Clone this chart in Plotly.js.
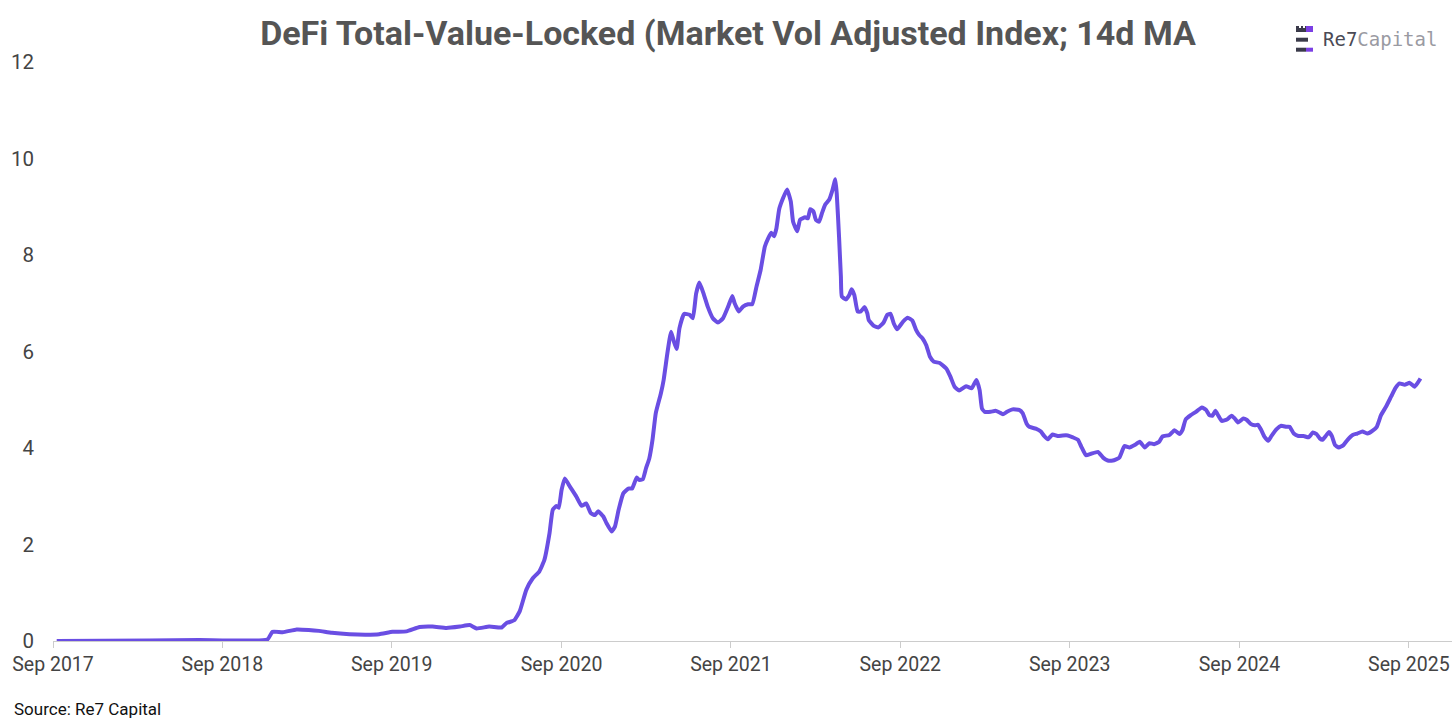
<!DOCTYPE html>
<html>
<head>
<meta charset="utf-8">
<script src="https://cdn.plot.ly/plotly-3.0.1.min.js"></script>
<style>html,body{margin:0;padding:0;background:#fff;}#chart{width:1456px;height:727px;}</style>
</head>
<body>
<div id="chart"></div>
<script>
const dates = [
"2017-09-09","2018-03-27","2018-07-13","2018-12-07","2018-12-18","2019-01-09","2019-02-08","2019-03-06","2019-03-28","2019-04-25",
"2019-06-02","2019-07-08","2019-08-05","2019-09-03","2019-10-03","2019-10-31","2019-11-28","2019-12-28","2020-01-26","2020-02-16",
"2020-03-02","2020-03-29","2020-04-25","2020-05-05","2020-05-22","2020-06-03","2020-06-17","2020-07-01","2020-07-15","2020-07-26",
"2020-08-06","2020-08-13","2020-08-21","2020-08-26","2020-09-01","2020-09-08","2020-09-19","2020-10-03","2020-10-14","2020-10-24",
"2020-11-03","2020-11-12","2020-11-19","2020-11-30","2020-12-07","2020-12-18","2020-12-25","2021-01-02","2021-01-12","2021-01-23",
"2021-01-31","2021-02-10","2021-02-15","2021-02-23","2021-03-02","2021-03-09","2021-03-16","2021-03-23","2021-04-03","2021-04-09",
"2021-04-17","2021-04-25","2021-05-01","2021-05-07","2021-05-13","2021-05-23","2021-06-04","2021-06-11","2021-06-18","2021-06-25",
"2021-07-04","2021-07-13","2021-07-24","2021-08-04","2021-08-15","2021-08-26","2021-09-04","2021-09-09","2021-09-18","2021-09-27",
"2021-10-08","2021-10-17","2021-10-26","2021-11-04","2021-11-13","2021-11-20","2021-11-27","2021-12-03","2021-12-08","2021-12-14",
"2021-12-22","2021-12-31","2022-01-08","2022-01-13","2022-01-22","2022-01-28","2022-02-08","2022-02-14","2022-02-19","2022-02-26",
"2022-03-03","2022-03-10","2022-03-16","2022-03-23","2022-04-01","2022-04-08","2022-04-14","2022-04-17","2022-04-22","2022-04-26",
"2022-04-28","2022-05-07","2022-05-14","2022-05-19","2022-05-25","2022-06-01","2022-06-08","2022-06-16","2022-06-22","2022-06-25",
"2022-07-06","2022-07-16","2022-07-27","2022-08-04","2022-08-11","2022-08-18","2022-08-25","2022-09-07","2022-09-17","2022-09-27",
"2022-10-05","2022-10-12","2022-10-19","2022-10-27","2022-11-04","2022-11-12","2022-11-25","2022-12-09","2022-12-18","2022-12-27",
"2023-01-06","2023-01-14","2023-01-21","2023-02-02","2023-02-12","2023-02-19","2023-02-24","2023-03-02","2023-03-15","2023-03-25",
"2023-04-02","2023-04-10","2023-04-19","2023-05-01","2023-05-15","2023-05-23","2023-05-31","2023-06-06","2023-06-20","2023-07-01",
"2023-07-08","2023-07-16","2023-07-26","2023-08-06","2023-08-17","2023-08-28","2023-09-08","2023-09-19","2023-09-26","2023-10-06",
"2023-10-17","2023-11-01","2023-11-12","2023-11-22","2023-12-03","2023-12-17","2023-12-28","2024-01-08","2024-01-19","2024-01-30",
"2024-02-10","2024-02-20","2024-03-01","2024-03-12","2024-03-19","2024-04-03","2024-04-14","2024-04-25","2024-05-01","2024-05-08",
"2024-05-19","2024-05-30","2024-06-12","2024-06-21","2024-06-28","2024-07-05","2024-07-11","2024-07-18","2024-07-25","2024-08-05",
"2024-08-15","2024-08-22","2024-08-29","2024-09-09","2024-09-17","2024-09-25","2024-10-04","2024-10-11","2024-10-18","2024-10-25",
"2024-11-02","2024-11-09","2024-11-20","2024-11-30","2024-12-11","2024-12-18","2024-12-27","2025-01-06","2025-01-17","2025-01-28",
"2025-02-06","2025-02-14","2025-02-21","2025-02-27","2025-03-06","2025-03-13","2025-03-19","2025-03-26","2025-04-03","2025-04-13",
"2025-04-22","2025-05-03","2025-05-13","2025-05-24","2025-06-04","2025-06-15","2025-06-24","2025-07-03","2025-07-14","2025-07-25",
"2025-08-03","2025-08-12","2025-08-23","2025-09-03","2025-09-13","2025-09-20","2025-09-26"
];
const tvlIndex = [
0.00,0.01,0.02,0.03,0.19,0.18,0.24,0.23,0.21,0.17,
0.14,0.13,0.14,0.19,0.20,0.29,0.30,0.27,0.30,0.33,
0.26,0.30,0.28,0.37,0.43,0.62,1.06,1.30,1.44,1.68,
2.23,2.72,2.80,2.76,3.13,3.37,3.20,2.99,2.80,2.85,
2.65,2.61,2.69,2.58,2.44,2.27,2.37,2.72,3.06,3.16,
3.16,3.39,3.34,3.35,3.58,3.78,4.17,4.72,5.13,5.41,
5.96,6.41,6.21,6.05,6.48,6.78,6.76,6.69,7.20,7.43,
7.20,6.93,6.69,6.60,6.69,6.93,7.15,7.00,6.83,6.93,
6.98,6.98,7.34,7.69,8.17,8.34,8.46,8.39,8.55,8.95,
9.17,9.36,9.11,8.69,8.49,8.73,8.78,8.76,8.95,8.90,
8.73,8.69,8.86,9.04,9.15,9.35,9.57,9.28,8.38,7.55,
7.14,7.08,7.17,7.29,7.17,6.83,6.83,6.92,6.79,6.65,
6.53,6.50,6.60,6.76,6.78,6.58,6.46,6.62,6.70,6.64,
6.45,6.34,6.27,6.13,5.89,5.79,5.76,5.65,5.48,5.27,
5.19,5.24,5.28,5.24,5.41,5.20,4.82,4.75,4.75,4.77,
4.74,4.70,4.75,4.80,4.79,4.72,4.51,4.44,4.40,4.34,
4.25,4.18,4.28,4.25,4.26,4.26,4.22,4.17,4.03,3.85,
3.88,3.92,3.80,3.74,3.74,3.80,4.04,4.01,4.06,4.13,
4.01,4.10,4.08,4.13,4.24,4.27,4.37,4.29,4.37,4.59,
4.68,4.75,4.84,4.79,4.68,4.67,4.77,4.66,4.56,4.59,
4.67,4.61,4.53,4.61,4.58,4.50,4.47,4.48,4.37,4.23,
4.15,4.25,4.39,4.46,4.44,4.44,4.30,4.25,4.25,4.22,
4.32,4.29,4.20,4.17,4.25,4.33,4.25,4.06,4.01,4.06,
4.17,4.27,4.30,4.34,4.30,4.36,4.44,4.68,4.86,5.07,
5.24,5.34,5.31,5.35,5.27,5.35,5.44
];
const titleText = "DeFi Total-Value-Locked (Market Vol Adjusted Index; 14d MA";
const sourceText = "Source: Re7 Capital";
const yTicks = [0, 2, 4, 6, 8, 10, 12];

const trace = {
  x: dates, y: tvlIndex, type: 'scatter', mode: 'lines',
  line: {color: '#6a4ee3', width: 4, shape: 'spline', smoothing: 0.4},
  hoverinfo: 'x+y'
};

const P = (px) => (px - 53) / 1399;
const Q = (py) => (641 - py) / 579;
const dark = '#3a3a4a', purp = '#7b3fe4';
const rect = (x0, x1, y0, y1, c) => ({type: 'rect', xref: 'paper', yref: 'paper', x0: P(x0), x1: P(x1), y0: Q(y1), y1: Q(y0), fillcolor: c, line: {width: 0}});

const layout = {
  width: 1456, height: 727,
  margin: {l: 53, r: 4, t: 62, b: 86},
  paper_bgcolor: '#fff', plot_bgcolor: '#fff',
  font: {family: 'Roboto, sans-serif', color: '#444', size: 20},
  showlegend: false,
  title: {
    text: '<b>' + titleText + '</b>',
    x: 0.5, xref: 'container', xanchor: 'center',
    y: 1 - 33 / 727, yref: 'container', yanchor: 'middle',
    font: {family: 'Roboto, sans-serif', size: 34, color: '#555'}
  },
  xaxis: {
    type: 'date',
    range: ['2017-09-01', '2025-12-03'],
    tick0: '2017-09-01', dtick: 'M12', tickformat: '%b %Y',
    showgrid: false, zeroline: false,
    showline: true, linecolor: '#cccccc', linewidth: 1,
    ticks: 'outside', ticklen: 6, tickcolor: '#cccccc', tickwidth: 1,
    tickfont: {size: 19.5, color: '#444'}
  },
  yaxis: {
    range: [0, 12], tickvals: yTicks,
    showgrid: false, zeroline: false, showline: false,
    ticks: '', ticklabelstandoff: 18,
    tickfont: {size: 20.5, color: '#444'}
  },
  shapes: [
    rect(1296, 1306, 26, 32, dark),
    rect(1306, 1313, 26, 32, purp),
    rect(1299, 1301, 26, 28, '#ffffff'),
    rect(1303, 1305, 26, 28, '#ffffff'),
    rect(1296, 1308, 37.7, 41.7, dark),
    rect(1296, 1306, 47.7, 51.7, dark),
    rect(1306, 1313, 47.7, 51.7, purp)
  ],
  annotations: [
    {
      xref: 'paper', yref: 'paper', x: P(1321), y: Q(39), xanchor: 'left', yanchor: 'middle',
      showarrow: false,
      text: "<span style='color:#4a4a55'>Re7</span><span style='color:#9a9aa2'>Capital</span>",
      font: {family: 'DejaVu Sans Mono, monospace', size: 19}
    },
    {
      xref: 'paper', yref: 'paper', x: P(12), y: Q(709), xanchor: 'left', yanchor: 'middle',
      showarrow: false, text: sourceText,
      font: {family: 'Roboto, sans-serif', size: 17, color: '#111'}
    }
  ]
};

Plotly.newPlot('chart', [trace], layout, {displayModeBar: false, staticPlot: true});
</script>
</body>
</html>
